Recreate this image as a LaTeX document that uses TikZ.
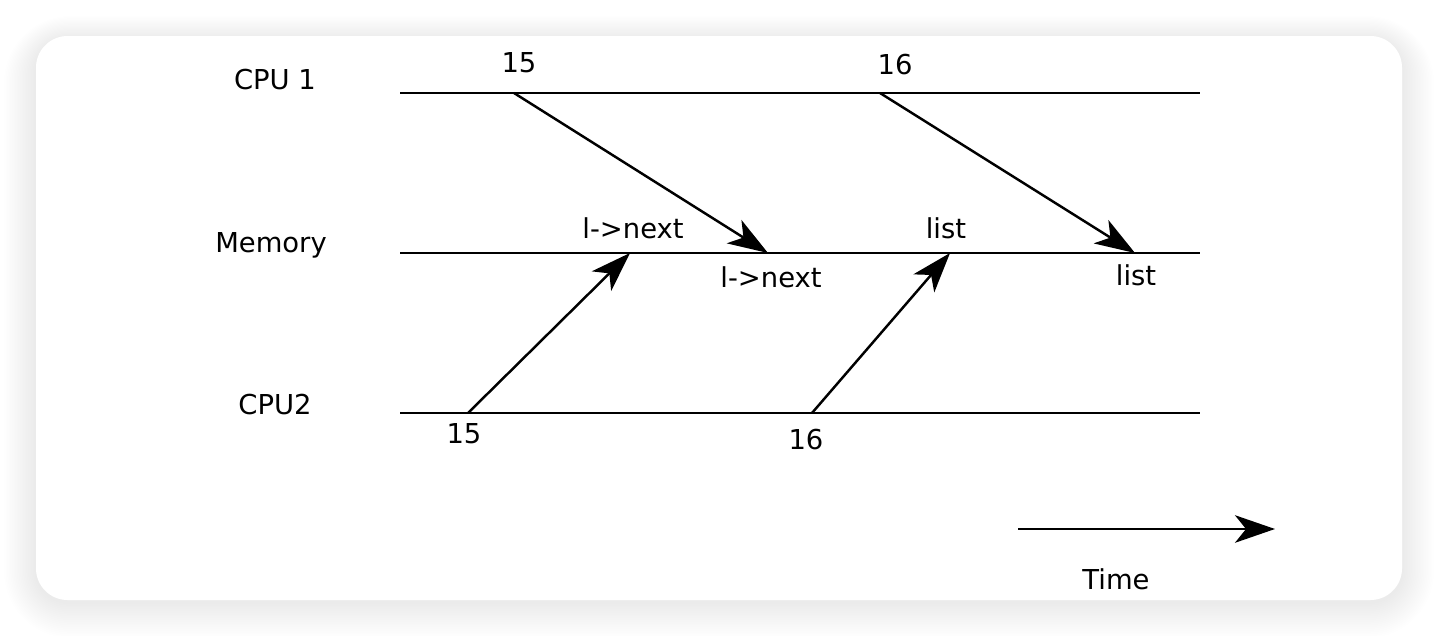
\documentclass[tikz,border=0pt]{standalone}
\usepackage{fontspec}
\setmainfont{DejaVu Sans}
\usetikzlibrary{arrows.meta, positioning}

\begin{document}
\begin{tikzpicture}[x=0.02cm, y=-0.02cm, every node/.style={font=\fontsize{15.6}{18}\selectfont}]

% Styles
\tikzstyle{lane} = [line width=1.4pt]
\tikzstyle{msg} = [line width=1.4pt, -{Stealth[length=0.8cm, width=0.55cm, inset=0.22cm]}]
\tikzstyle{tag} = [inner sep=1pt]

% Card with soft shadow
\useasboundingbox (0,0) rectangle (1438,636);
\foreach \i in {1,...,20} {
  \pgfmathsetmacro\rad{18+\i*1.0}
  \fill[black, opacity=0.0045, rounded corners=\rad pt] (36-\i*1.6,40-\i*1.2) rectangle (1402+\i*1.6,602+\i*1.8);
}
\fill[white, rounded corners=18pt] (36,36) rectangle (1402,600);

% Lanes
\node (cpuA) at (275,80) {CPU 1};
\node (mem) at (271,245) {Memory};
\node (cpuB) at (275,405) {CPU2};
\coordinate (cpuAs) at (400,93);  \coordinate (cpuAe) at (1200,93);
\coordinate (mems)  at (400,253); \coordinate (meme)  at (1200,253);
\coordinate (cpuBs) at (400,413); \coordinate (cpuBe) at (1200,413);
\draw [lane] (cpuAs) -- (cpuAe);
\draw [lane] (mems) -- (meme);
\draw [lane] (cpuBs) -- (cpuBe);

% Message end points
\coordinate (wA1) at (514,93);  \coordinate (rA1) at (768,253);
\coordinate (wA2) at (880,93);  \coordinate (rA2) at (1135,253);
\coordinate (wB1) at (468,413); \coordinate (rB1) at (630,253);
\coordinate (wB2) at (812,413); \coordinate (rB2) at (950,253);

% Labels
\node (tA1) [tag] at (519,63) {15};
\node (tA2) [tag] at (895,65) {16};
\node (tB1) [tag] at (464,434) {15};
\node (tB2) [tag] at (806,440) {16};
\node (mB1) [tag] at (633,228) {l->next};
\node (mA1) [tag] at (771,277) {l->next};
\node (mB2) [tag] at (946,228) {list};
\node (mA2) [tag] at (1136,275) {list};

% Arrows
\draw [msg] (wA1) -- (rA1);
\draw [msg] (wA2) -- (rA2);
\draw [msg] (wB1) -- (rB1);
\draw [msg] (wB2) -- (rB2);

% Time axis
\coordinate (ts) at (1018,529);
\coordinate (te) at (1275,529);
\draw [msg] (ts) -- (te);
\node (time) at (1116,579) {Time};

\end{tikzpicture}
\end{document}
